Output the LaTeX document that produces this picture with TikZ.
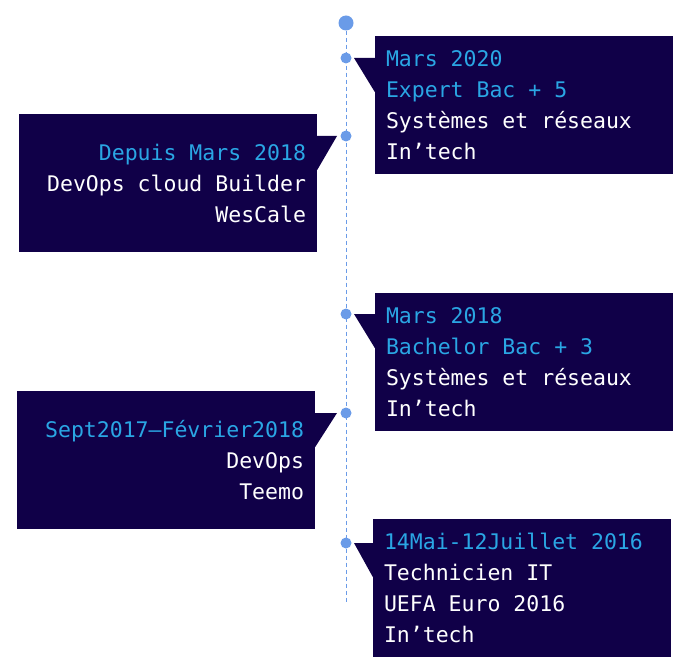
\documentclass[tikz,border=0pt]{standalone}
\usepackage{fontspec}
\newfontfamily\cvmono{DejaVu Sans Mono}
\usepackage{tikz}
\usetikzlibrary{calc}
\definecolor{navy}{HTML}{100048}
\definecolor{datecol}{HTML}{2AA6E4}
\definecolor{dotcol}{HTML}{6A9BE8}
\newcommand{\datetxt}[1]{\textcolor{datecol}{#1}}
\newcommand{\cvfont}{\cvmono\fontsize{21.5}{31}\selectfont}
\newcommand{\gap}{\char"00A0\relax}

\begin{document}
\begin{tikzpicture}[x=1pt,y=-1pt,
    box/.style={fill=navy,text=white,inner xsep=11pt,text width=276pt,minimum height=138pt,
        font=\cvfont},
    dot/.style={circle,fill=dotcol,inner sep=0pt,minimum size=11pt}]
            \useasboundingbox (0,0) rectangle (684,668);

            \node[dot,minimum size=15pt] (top) at (346,23) {};
            \coordinate (end) at (346,602);
            \draw[dotcol,line width=0.8pt,dash pattern=on 4pt off 3pt] (top) -- (end);

            \node[dot] (d1) at (346,58) {};
            \node[dot] (d2) at (346,136) {};
            \node[dot] (d3) at (346,314) {};
            \node[dot] (d4) at (346,413) {};
            \node[dot] (d5) at (346,543) {};

            \node[box,align=left] (b1) at (524,105)
                {\datetxt{Mars\gap 2020}\\\datetxt{Expert\gap Bac\gap +\gap 5}\\Systèmes\gap et\gap réseaux\\In’tech};
            \node[box,align=right] (b2) at (168,183)
                {\datetxt{Depuis\gap Mars\gap 2018}\\DevOps\gap cloud\gap Builder\\WesCale};
            \node[box,align=left] (b3) at (524,362)
                {\datetxt{Mars\gap 2018}\\\datetxt{Bachelor\gap Bac\gap +\gap 3}\\Systèmes\gap et\gap réseaux\\In’tech};
            \node[box,align=right] (b4) at (166,460)
                {\datetxt{Sept2017—Février2018}\\DevOps\\Teemo};
            \node[box,align=left] (b5) at (522,588)
                {\datetxt{14Mai-12Juillet\gap 2016}\\Technicien\gap IT\\UEFA\gap Euro\gap 2016\\In’tech};

            \foreach \d/\b in {d1/b1,d3/b3,d5/b5}
                \fill[navy] ($(\d)+(8,0)$) -- (\b.west |- \d) -- ($(\b.west |- \d)+(0,34)$) -- cycle;
            \foreach \d/\b in {d2/b2,d4/b4}
                \fill[navy] ($(\d)+(-9,0)$) -- (\b.east |- \d) -- ($(\b.east |- \d)+(0,34)$) -- cycle;
        \end{tikzpicture}
\end{document}
